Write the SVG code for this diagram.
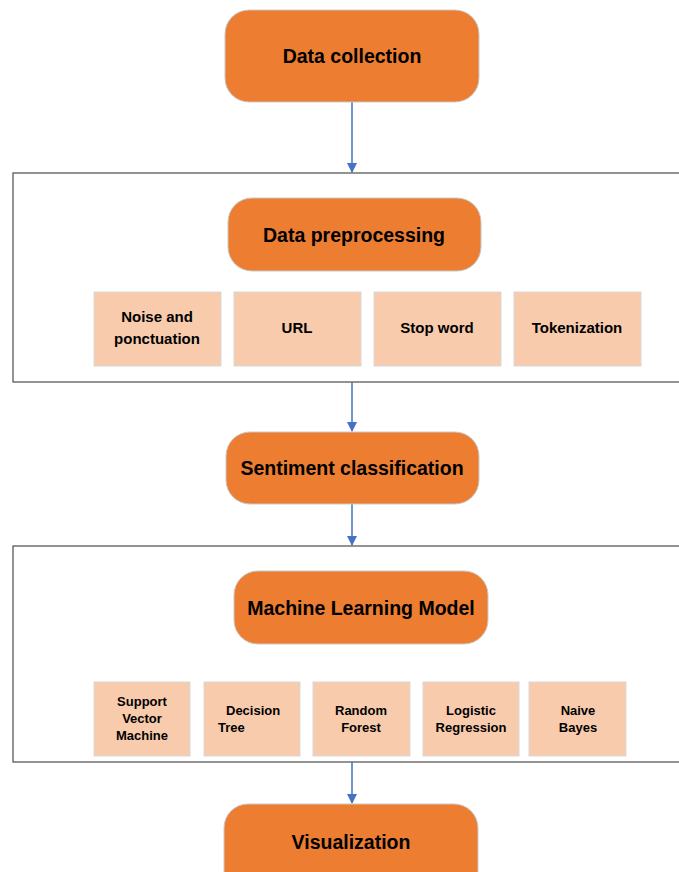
<svg xmlns="http://www.w3.org/2000/svg" width="679" height="872" viewBox="0 0 679 872">
<style>
.main{fill:#ED7D31;stroke:#C9C9C9;stroke-width:1}
.sub{fill:#F8CBAD;stroke:#D9D9D9;stroke-width:1}
.cont{fill:#FFFFFF;stroke:#595959;stroke-width:1.3}
.t{font-family:"Liberation Sans",Arial,sans-serif;font-weight:bold;fill:#000;text-anchor:middle}
.big{font-size:19.5px}
.mid{font-size:15px}
.sm{font-size:13px}
.conn{stroke:#4472C4;stroke-width:1.5;fill:none;marker-end:url(#ah)}
</style>
<defs>
<marker id="ah" markerWidth="10" markerHeight="10" refX="9" refY="5" orient="auto" markerUnits="userSpaceOnUse">
<path d="M0,0 L10,5 L0,10 Z" fill="#4472C4"/>
</marker>
</defs>
<rect width="679" height="872" fill="#FFFFFF"/>
<g id="container-preprocessing"><rect class="cont" x="13" y="173" width="680" height="209"/></g>
<g id="container-ml"><rect class="cont" x="13" y="546" width="680" height="216"/></g>
<g id="connectors">
<line class="conn" x1="352" y1="102" x2="352" y2="172"/>
<line class="conn" x1="352" y1="382" x2="352" y2="431"/>
<line class="conn" x1="352" y1="504" x2="352" y2="545"/>
<line class="conn" x1="352" y1="762" x2="352" y2="803"/>
</g>
<g id="data-collection"><rect class="main" x="225" y="10" width="254" height="92" rx="24"/><text class="t big" x="352" y="63">Data collection</text></g>
<g id="data-preprocessing"><rect class="main" x="228" y="198" width="253" height="73" rx="24"/><text class="t big" x="354" y="242">Data preprocessing</text></g>
<g id="noise"><rect class="sub" x="94" y="292" width="127" height="74"/><text class="t mid" x="157" y="322">Noise and</text><text class="t mid" x="157" y="344">ponctuation</text></g>
<g id="url"><rect class="sub" x="234" y="292" width="127" height="74"/><text class="t mid" x="297" y="333">URL</text></g>
<g id="stopword"><rect class="sub" x="374" y="292" width="127" height="74"/><text class="t mid" x="437" y="333">Stop word</text></g>
<g id="tokenization"><rect class="sub" x="514" y="292" width="127" height="74"/><text class="t mid" x="577" y="333">Tokenization</text></g>
<g id="sentiment"><rect class="main" x="226" y="432" width="253" height="72" rx="24"/><text class="t big" x="352" y="475">Sentiment classification</text></g>
<g id="ml-model"><rect class="main" x="234" y="571" width="254" height="73" rx="24"/><text class="t big" x="361" y="615">Machine Learning Model</text></g>
<g id="svm"><rect class="sub" x="94" y="682" width="96" height="74"/><text class="t sm" x="142" y="706">Support</text><text class="t sm" x="142" y="723">Vector</text><text class="t sm" x="142" y="740">Machine</text></g>
<g id="dt"><rect class="sub" x="204" y="682" width="96" height="74"/><text class="t sm" x="226" y="715" style="text-anchor:start">Decision</text><text class="t sm" x="218" y="732" style="text-anchor:start">Tree</text></g>
<g id="rf"><rect class="sub" x="313" y="682" width="97" height="74"/><text class="t sm" x="361" y="715">Random</text><text class="t sm" x="361" y="732">Forest</text></g>
<g id="lr"><rect class="sub" x="423" y="682" width="96" height="74"/><text class="t sm" x="471" y="715">Logistic</text><text class="t sm" x="471" y="732">Regression</text></g>
<g id="nb"><rect class="sub" x="529" y="682" width="97" height="74"/><text class="t sm" x="578" y="715">Naive</text><text class="t sm" x="578" y="732">Bayes</text></g>
<g id="visualization"><rect class="main" x="224" y="804" width="254" height="92" rx="24"/><text class="t big" x="351" y="849">Visualization</text></g>
</svg>
